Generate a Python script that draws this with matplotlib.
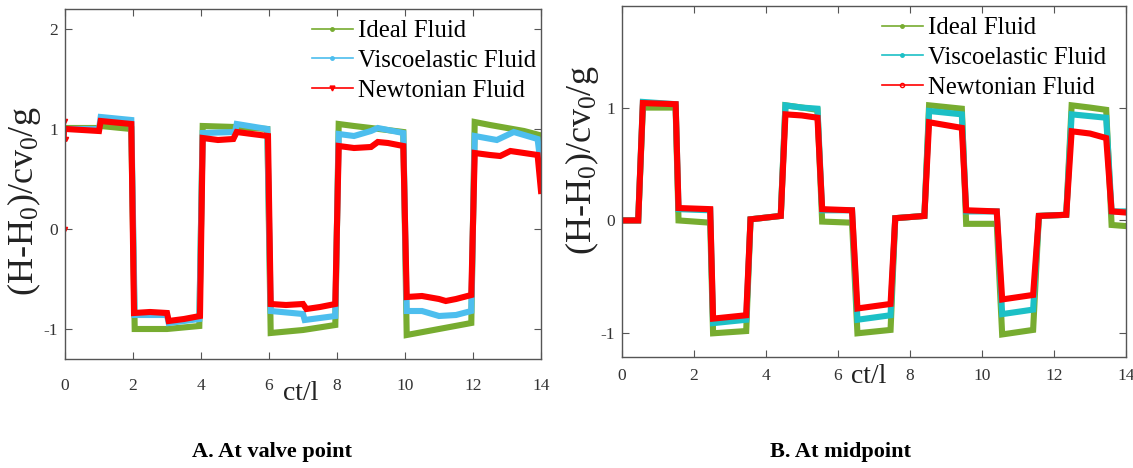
import matplotlib
matplotlib.use('Agg')  # no display
import matplotlib.pyplot as plt
from matplotlib.lines import Line2D

# ---- data (time ct/l, head (H-H0)/cv0/g) ----
# A. valve point
ideal_a_t = [0, 1.0, 1.05, 1.95, 2.05, 3.0, 3.95, 4.05, 5.0, 5.95, 6.05, 7.0, 7.95, 8.05, 8.5, 9.0,
             9.95, 10.05, 11.0, 11.95, 12.05, 12.5, 13.0, 13.5, 13.95, 14.0]
ideal_a_v = [1.01, 1.01, 1.03, 1.0, -1.0, -1.0, -0.97, 1.03, 1.02, 1.0, -1.04, -1.01, -0.96, 1.05, 1.03, 1.01,
             0.97, -1.06, -1.0, -0.94, 1.07, 1.04, 1.01, 0.98, 0.94, 0.7]

visco_a_t = [0, 1.0, 1.05, 1.95, 2.05, 3.0, 3.05, 3.95, 4.05, 5.0, 5.05, 5.95, 6.05, 7.0, 7.05, 7.95,
             8.05, 8.5, 9.0, 9.2, 9.95, 10.05, 10.5, 11.0, 11.5, 11.95, 12.05, 12.7, 13.2, 13.9, 14.0]
visco_a_v = [1.0, 1.0, 1.12, 1.09, -0.86, -0.86, -0.94, -0.9, 0.96, 0.97, 1.05, 1.0, -0.82, -0.85, -0.91, -0.87,
             0.95, 0.93, 0.98, 1.01, 0.96, -0.82, -0.82, -0.87, -0.86, -0.82, 0.93, 0.89, 0.97, 0.9, 0.62]

newton_a_t = [0.04, 1.0, 1.05, 1.95, 2.03, 2.5, 3.0, 3.05, 3.5, 3.97, 4.05, 4.5, 4.95, 5.05, 5.5, 5.97,
              6.05, 6.5, 7.0, 7.1, 7.5, 7.95, 8.05, 8.5, 9.0, 9.2, 9.5, 9.95, 10.05, 10.5, 11.0, 11.2,
              11.5, 11.95, 12.05, 12.5, 12.8, 13.1, 13.5, 13.9, 14.0]
newton_a_v = [1.0, 0.98, 1.08, 1.05, -0.84, -0.83, -0.84, -0.92, -0.9, -0.87, 0.91, 0.89, 0.9, 0.97, 0.95, 0.93,
              -0.75, -0.76, -0.75, -0.8, -0.78, -0.75, 0.83, 0.81, 0.82, 0.87, 0.86, 0.83, -0.68, -0.67, -0.7, -0.72,
              -0.7, -0.66, 0.76, 0.74, 0.73, 0.78, 0.76, 0.74, 0.38]
# first few samples of the Newtonian run (start-up spike)
newton_a0_t = [0.0, 0.0, 0.02, 0.04]
newton_a0_v = [0.0, 1.08, 0.9, 1.0]

# B. midpoint
ideal_b_t = [0, 0.45, 0.58, 1.49, 1.57, 2.45, 2.53, 3.45, 3.57, 4.41, 4.54, 5.0, 5.43, 5.56, 6.39, 6.54,
             7.46, 7.59, 8.4, 8.53, 9.44, 9.56, 10.41, 10.56, 11.42, 11.58, 12.34, 12.49, 13.0, 13.45, 13.6, 14.0]
ideal_b_v = [0.0, 0.0, 1.0, 1.0, 0.0, -0.02, -1.0, -0.98, 0.01, 0.04, 1.02, 1.0, 0.98, -0.01, -0.02, -1.0,
             -0.97, 0.02, 0.04, 1.02, 0.99, -0.03, -0.03, -1.01, -0.97, 0.04, 0.05, 1.02, 1.0, 0.98, -0.04, -0.05]

visco_b_t = [0, 0.45, 0.58, 1.49, 1.57, 2.45, 2.53, 3.45, 3.57, 4.41, 4.54, 5.0, 5.43, 5.56, 6.39, 6.54,
             7.46, 7.59, 8.4, 8.53, 9.44, 9.56, 10.41, 10.56, 11.42, 11.58, 12.34, 12.49, 13.45, 13.6, 14.0]
visco_b_v = [0.0, 0.0, 1.05, 1.03, 0.1, 0.09, -0.91, -0.88, 0.01, 0.04, 1.02, 1.0, 0.99, 0.09, 0.09, -0.88,
             -0.84, 0.02, 0.04, 0.97, 0.94, 0.08, 0.08, -0.83, -0.79, 0.04, 0.05, 0.94, 0.91, 0.08, 0.08]

newton_b_t = [0, 0.45, 0.58, 1.49, 1.57, 2.45, 2.53, 3.45, 3.57, 4.41, 4.54, 5.0, 5.43, 5.56, 6.39, 6.54,
              7.46, 7.59, 8.4, 8.53, 9.44, 9.56, 10.41, 10.56, 11.42, 11.58, 12.34, 12.49, 13.0, 13.45, 13.6, 14.0]
newton_b_v = [0.0, 0.0, 1.04, 1.03, 0.11, 0.1, -0.87, -0.84, 0.01, 0.04, 0.94, 0.93, 0.91, 0.1, 0.09, -0.78,
              -0.74, 0.02, 0.04, 0.87, 0.82, 0.09, 0.08, -0.7, -0.66, 0.04, 0.05, 0.79, 0.77, 0.73, 0.08, 0.07]

labels = ['Ideal Fluid', 'Viscoelastic Fluid', 'Newtonian Fluid']
xticks = [0, 2, 4, 6, 8, 10, 12, 14]

GREEN = '#77AC30'
BLUE_A = '#4DBEEE'
CYAN_B = '#1CC0C6'
RED = '#FF0000'
SPINE = '#555555'

plt.rcParams['font.family'] = ['Liberation Serif', 'DejaVu Serif']
plt.rcParams['mathtext.fontset'] = 'custom'
plt.rcParams['mathtext.rm'] = 'Liberation Serif'
plt.rcParams['mathtext.it'] = 'Liberation Serif'

fig = plt.figure(figsize=(11.33, 4.68), dpi=100)
W, H = 1133, 468
ax_a = fig.add_axes([65 / W, (H - 359) / H, 476 / W, 350 / H])
ax_b = fig.add_axes([622 / W, (H - 357) / H, 504 / W, 351 / H])

ylab = r'(H-H$\mathregular{_0}$)/cv$\mathregular{_0}$/g'
LW = 4.4

# A. valve point
ax_a.plot(ideal_a_t, ideal_a_v, color=GREEN, lw=LW, solid_joinstyle='miter')
ax_a.plot(visco_a_t, visco_a_v, color=BLUE_A, lw=LW, solid_joinstyle='miter')
ax_a.plot(newton_a0_t, newton_a0_v, color=RED, lw=1.0, marker='v', ms=3)
ax_a.plot(newton_a_t, newton_a_v, color=RED, lw=LW, solid_joinstyle='miter')
ax_a.set_xlim(0, 14)
ax_a.set_ylim(-1.3, 2.2)
ax_a.set_yticks([-1, 0, 1, 2])
ax_a.set_yticklabels(['-1', '0', '1', '2'])
ax_a.tick_params(axis='x', pad=14)

# B. midpoint
ax_b.plot(ideal_b_t, ideal_b_v, color=GREEN, lw=LW, solid_joinstyle='miter')
ax_b.plot(visco_b_t, visco_b_v, color=CYAN_B, lw=LW, solid_joinstyle='miter')
ax_b.plot(newton_b_t, newton_b_v, color=RED, lw=LW, solid_joinstyle='miter')
ax_b.set_xlim(0, 14)
ax_b.set_ylim(-1.21, 1.9)
ax_b.set_yticks([-1, 0, 1])
ax_b.set_yticklabels(['-1', '0', '1'])
ax_b.tick_params(axis='x', pad=8)

for ax in (ax_a, ax_b):
    ax.set_xticks(xticks)
    ax.tick_params(direction='in', top=True, right=True, length=5, width=0.8,
                   colors=SPINE, labelcolor='#333333', labelsize=12.5)
    ax.tick_params(axis='y', pad=5)
    for s in ax.spines.values():
        s.set_color(SPINE)
        s.set_linewidth(1.0)
    ax.set_ylabel(ylab, fontsize=26, color='#222222')
    ax.set_xlabel('ct/l', fontsize=20, color='#222222')

ax_a.yaxis.set_label_coords(-0.046, 0.45)
ax_a.xaxis.set_label_coords(0.496, -0.062)
ax_b.yaxis.set_label_coords(-0.042, 0.56)
ax_b.xaxis.set_label_coords(0.49, -0.02)

# legends (thin lines with markers, like the original plotting handles)
handles_a = [Line2D([], [], color=GREEN, lw=1.2, marker='.', ms=5),
             Line2D([], [], color=BLUE_A, lw=1.2, marker='.', ms=5),
             Line2D([], [], color=RED, lw=1.2, marker='v', ms=3.5)]
handles_b = [Line2D([], [], color=GREEN, lw=1.2, marker='.', ms=5),
             Line2D([], [], color=CYAN_B, lw=1.2, marker='.', ms=5),
             Line2D([], [], color=RED, lw=1.2, marker='o', ms=3, mfc='none')]
leg_kw = dict(frameon=False, fontsize=17.8, handlelength=1.65, handletextpad=0.22,
              labelspacing=0.3, borderpad=0, borderaxespad=0, loc='upper left')
ax_a.legend(handles_a, labels, bbox_to_anchor=(312 / W, 1 - 20 / H),
            bbox_transform=fig.transFigure, **leg_kw)
ax_b.legend(handles_b, labels, bbox_to_anchor=(882 / W, 1 - 17 / H),
            bbox_transform=fig.transFigure, **leg_kw)

# panel captions
fig.text(272 / W, 1 - 452 / H, 'A. At valve point', ha='center', va='center',
         fontsize=16, fontweight='bold')
fig.text(841 / W, 1 - 452 / H, 'B. At midpoint', ha='center', va='center',
         fontsize=16, fontweight='bold')

plt.savefig('out.png', dpi=100)
plt.close()
